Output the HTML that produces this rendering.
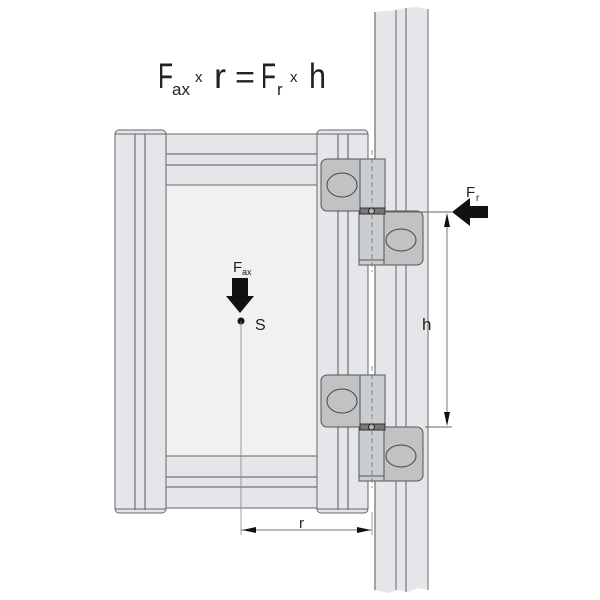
<!DOCTYPE html>
<html><head><style>body{margin:0;background:#fff}svg{display:block}</style></head><body>
<svg width="600" height="600" viewBox="0 0 600 600" xmlns="http://www.w3.org/2000/svg" font-family="Liberation Sans, sans-serif">
<path d="M375 12 L395 10 L405 8 L415 7 L428 9 L428 590 L418 588 L408 592 L398 590 L388 593 L375 590 Z" fill="#e4e6e9"/>
<line x1="375" y1="12" x2="375" y2="590" stroke="#888" stroke-width="1.5"/>
<line x1="428" y1="9" x2="428" y2="590" stroke="#999" stroke-width="1.5"/>
<line x1="396" y1="10" x2="396" y2="590" stroke="#666" stroke-width="1"/>
<line x1="406" y1="8" x2="406" y2="592" stroke="#666" stroke-width="1"/>
<rect x="166" y="185" width="151" height="271" fill="#f1f1f1" stroke="#666" stroke-width="1"/>
<rect x="166" y="134" width="151" height="51" fill="#e4e6e9" stroke="#666" stroke-width="1"/>
<line x1="166" y1="154" x2="317" y2="154" stroke="#555"/>
<line x1="166" y1="165" x2="317" y2="165" stroke="#555"/>
<rect x="166" y="456" width="151" height="52" fill="#e4e6e9" stroke="#666" stroke-width="1"/>
<line x1="166" y1="477" x2="317" y2="477" stroke="#555"/>
<line x1="166" y1="487" x2="317" y2="487" stroke="#555"/>
<rect x="115" y="130" width="51" height="383" rx="4" fill="#e4e6e9" stroke="#666" stroke-width="1"/>
<line x1="135" y1="134" x2="135" y2="510" stroke="#555"/>
<line x1="145" y1="134" x2="145" y2="510" stroke="#555"/>
<line x1="115" y1="134" x2="166" y2="134" stroke="#666"/>
<line x1="115" y1="509" x2="166" y2="509" stroke="#666"/>
<rect x="317" y="130" width="51" height="383" rx="4" fill="#e4e6e9" stroke="#666" stroke-width="1"/>
<line x1="338" y1="134" x2="338" y2="510" stroke="#555"/>
<line x1="348" y1="134" x2="348" y2="510" stroke="#555"/>
<line x1="317" y1="134" x2="368" y2="134" stroke="#666"/>
<line x1="317" y1="509" x2="368" y2="509" stroke="#666"/>
<rect x="369" y="265" width="5" height="110" fill="#fff"/>
<rect x="369" y="482" width="5" height="30" fill="#fff"/>
<g id="h1">
<rect x="321" y="159" width="64" height="52" rx="6" fill="#c0c2c4" stroke="#555"/>
<rect x="360" y="159" width="25" height="52" fill="#cbced0" stroke="#555"/>
<ellipse cx="342" cy="185" rx="15" ry="12" fill="#c0c2c4" stroke="#444"/>
<rect x="359" y="211" width="64" height="54" rx="6" fill="#c0c2c4" stroke="#555"/>
<rect x="359" y="211" width="25" height="54" fill="#cbced0" stroke="#555"/>
<line x1="359" y1="260" x2="384" y2="260" stroke="#555"/>
<ellipse cx="401" cy="240" rx="15" ry="11" fill="#c0c2c4" stroke="#444"/>
<rect x="360" y="208" width="25" height="6" fill="#777" stroke="#333"/>
<circle cx="371.5" cy="211" r="3" fill="#bbb" stroke="#222"/>
<line x1="372" y1="150" x2="372" y2="272" stroke="#777" stroke-dasharray="5,3" stroke-width="0.8"/>
</g>
<use href="#h1" transform="translate(0,216)"/>
<line x1="385" y1="212" x2="452" y2="212" stroke="#666"/>
<line x1="425" y1="427" x2="452" y2="427" stroke="#666"/>
<line x1="447" y1="225" x2="447" y2="414" stroke="#777"/>
<polygon points="447,213 444,227 450,227" fill="#111"/>
<polygon points="447,426 444,412 450,412" fill="#111"/>
<polygon points="452,212 470,198 470,206 488,206 488,218 470,218 470,226" fill="#111"/>
<text x="466" y="197" font-size="15" fill="#222">F</text>
<text x="476" y="201" font-size="10" fill="#222">r</text>
<text x="422" y="330" font-size="17" fill="#222">h</text>
<polygon points="232,278 248,278 248,296 254,296 240,313 226,296 232,296" fill="#111"/>
<text x="233" y="272" font-size="15" fill="#222">F</text>
<text x="242" y="275" font-size="9" fill="#222">ax</text>
<circle cx="241" cy="321" r="3.5" fill="#111"/>
<text x="255" y="330" font-size="16" fill="#222">S</text>
<line x1="241" y1="321" x2="241" y2="535" stroke="#888" stroke-width="0.8"/>
<line x1="372" y1="512" x2="372" y2="535" stroke="#888" stroke-width="0.8"/>
<line x1="241" y1="530" x2="372" y2="530" stroke="#777"/>
<polygon points="242,530 256,527 256,533" fill="#111"/>
<polygon points="371,530 357,527 357,533" fill="#111"/>
<text x="299" y="528" font-size="15" fill="#222">r</text>
<g fill="#222">
<text x="158" y="88" font-size="35" textLength="15" lengthAdjust="spacingAndGlyphs">F</text>
<text x="172" y="95" font-size="17">ax</text>
<text x="195" y="82" font-size="15">x</text>
<text x="214" y="88" font-size="35" textLength="12" lengthAdjust="spacingAndGlyphs">r</text>
<text x="235" y="88" font-size="32" textLength="20" lengthAdjust="spacingAndGlyphs">=</text>
<text x="261" y="88" font-size="35" textLength="15" lengthAdjust="spacingAndGlyphs">F</text>
<text x="277" y="95" font-size="17">r</text>
<text x="290" y="82" font-size="15">x</text>
<text x="309" y="88" font-size="35" textLength="17" lengthAdjust="spacingAndGlyphs">h</text>
</g>
</svg>
</body></html>
